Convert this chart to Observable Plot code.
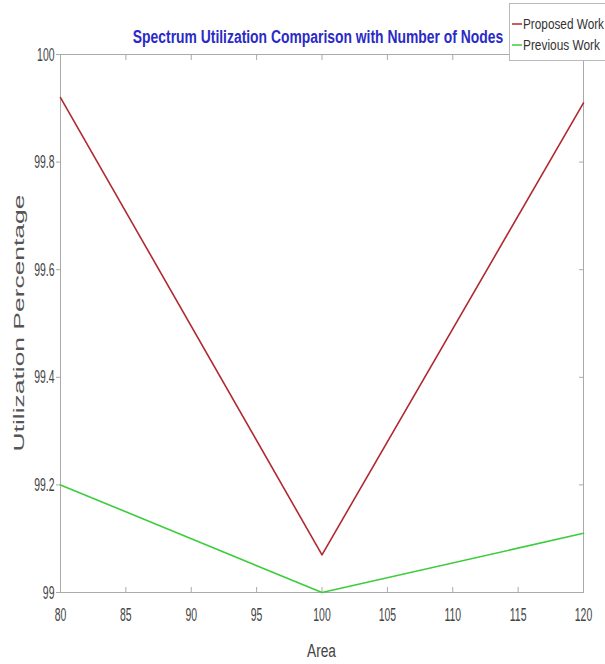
<!DOCTYPE html>
<html>
<head>
<meta charset="utf-8">
<script src="https://cdn.jsdelivr.net/npm/d3@7"></script>
<script src="https://cdn.jsdelivr.net/npm/@observablehq/plot@0.6"></script>
<style>
  html, body { margin: 0; padding: 0; background: #fff; }
  svg { display: block; }
</style>
</head>
<body>
<div id="chart"></div>
<script>
const area = [80, 100, 120];
const proposedWork = [99.92, 99.07, 99.91];
const previousWork = [99.2, 99.0, 99.11];
const seriesNames = ["Proposed Work", "Previous Work"];
const seriesColors = ["#b02a30", "#3ccc3c"];
const xTicks = [80, 85, 90, 95, 100, 105, 110, 115, 120];
const yTicks = [99, 99.2, 99.4, 99.6, 99.8, 100];
const titleText = "Spectrum Utilization Comparison with Number of Nodes";
const xLabel = "Area";
const yLabel = "Utilization Percentage";

const data = [];
area.forEach((a, i) => data.push({area: a, value: proposedWork[i], series: seriesNames[0]}));
area.forEach((a, i) => data.push({area: a, value: previousWork[i], series: seriesNames[1]}));

const font = "'Liberation Sans', Arial, sans-serif";
const W = 605, H = 664;
const mL = 60, mR = 22, mT = 54, mB = 72;

const chart = Plot.plot({
  width: W,
  height: H,
  marginLeft: mL,
  marginRight: mR,
  marginTop: mT,
  marginBottom: mB,
  style: {fontFamily: font, fontSize: "19px", color: "#444", background: "#fff"},
  x: {domain: [80, 120], label: null},
  y: {domain: [99, 100], label: null},
  color: {domain: seriesNames, range: seriesColors},
  marks: [
    Plot.frame({stroke: "#aaa", strokeWidth: 1}),
    Plot.axisX({anchor: "bottom", ticks: xTicks, tickSize: 0, tickPadding: 15, tickFormat: d => String(d), fill: "#444"}),
    Plot.axisX({anchor: "bottom", ticks: xTicks, tickSize: -5, tickFormat: () => "", stroke: "#aaa"}),
    Plot.axisX({anchor: "top", ticks: xTicks, tickSize: -5, tickFormat: () => "", stroke: "#aaa"}),
    Plot.axisY({anchor: "left", ticks: yTicks, tickSize: 4, tickPadding: 2, tickFormat: d => String(+d.toFixed(1)), fill: "#444", stroke: "#aaa"}),
    Plot.axisY({anchor: "right", ticks: yTicks, tickSize: -5, tickFormat: () => "", stroke: "#aaa"}),
    Plot.line(data, {x: "area", y: "value", z: "series", stroke: "series", strokeWidth: 1.6})
  ]
});

document.getElementById("chart").appendChild(chart);
const svg = d3.select(chart);

// squeeze a text horizontally (around its anchor x) by factor s, via transform
function squeeze(el, s) {
  const x = parseFloat(el.getAttribute("x")) || 0;
  const t = el.getAttribute("transform") || "";
  el.setAttribute("transform",
    `${t} translate(${x},0) scale(${s.toFixed(3)},1) translate(${-x},0)`.trim());
}
function fitTo(el, target) {
  const len = el.getComputedTextLength();
  if (len > 0) squeeze(el, target / len);
}

// Title
const title = svg.append("text")
  .attr("transform", "translate(318,43)")
  .attr("text-anchor", "middle")
  .attr("font-family", font)
  .attr("font-weight", "bold")
  .attr("font-size", 19)
  .attr("fill", "#2a2ac8")
  .text(titleText);
fitTo(title.node(), 371);
// X label
const xl = svg.append("text")
  .attr("transform", `translate(${(mL + W - mR) / 2},657)`)
  .attr("text-anchor", "middle")
  .attr("font-family", font)
  .attr("font-size", 19)
  .attr("fill", "#444")
  .text(xLabel);
fitTo(xl.node(), 29);
// Y label
const yl = svg.append("text")
  .attr("transform", `translate(24,${(mT + H - mB) / 2}) rotate(-90)`)
  .attr("text-anchor", "middle")
  .attr("font-family", font)
  .attr("font-size", 14)
  .attr("fill", "#555")
  .text(yLabel);
fitTo(yl.node(), 257);
// Legend
const lg = svg.append("g");
lg.append("rect")
  .attr("x", 509.5).attr("y", 3.5).attr("width", 110).attr("height", 57)
  .attr("fill", "#fff").attr("stroke", "#bbb");
const legendLens = [81, 77];
seriesNames.forEach((name, i) => {
  const yy = 24 + i * 21;
  lg.append("line")
    .attr("x1", 512).attr("x2", 522).attr("y1", yy).attr("y2", yy)
    .attr("stroke", seriesColors[i]).attr("stroke-width", 1.5);
  const t = lg.append("text")
    .attr("transform", `translate(523,${yy + 5})`)
    .attr("text-anchor", "start")
    .attr("font-family", font)
    .attr("font-size", 15)
    .attr("fill", "#333")
    .text(name);
  fitTo(t.node(), legendLens[i]);
});

// narrow look for tick labels
svg.selectAll('g[aria-label="x-axis tick label"] text, g[aria-label="y-axis tick label"] text').each(function() {
  squeeze(this, 0.55);
});
</script>
</body>
</html>
